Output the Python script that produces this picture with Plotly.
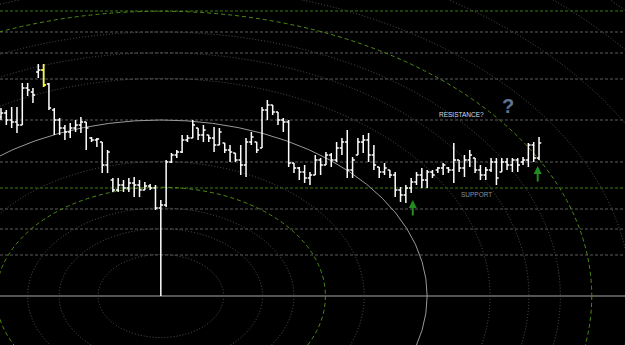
import plotly.graph_objects as go

# ---------------- data (price units) ----------------
bar_index = list(range(102))
open_ = [228, 232, 225, 223, 220, 257, 253, 273, 275, 261, 235, 225, 217, 213, 217, 220, 223, 207, 205, 203,
         180, 165, 155, 160, 157, 162, 160, 155, 159, 157, 137, 140, 183, 190, 193, 205, 207, 217, 210, 210,
         207, 200, 202, 195, 192, 185, 180, 203, 203, 197, 235, 240, 233, 225, 223, 182, 177, 173, 167, 170,
         185, 180, 190, 185, 197, 203, 175, 190, 203, 205, 190, 178, 173, 175, 170, 155, 150, 157, 163, 170,
         165, 173, 175, 177, 177, 175, 185, 177, 185, 187, 175, 170, 175, 183, 173, 183, 180, 185, 183, 185,
         200, 187]
high = [237, 235, 238, 238, 262, 262, 257, 281, 281, 262, 237, 227, 220, 222, 225, 228, 223, 208, 207, 203,
        195, 167, 167, 165, 167, 168, 165, 163, 161, 160, 145, 185, 192, 195, 210, 210, 225, 217, 220, 210,
        218, 217, 202, 200, 192, 200, 207, 213, 203, 238, 245, 240, 233, 227, 225, 182, 178, 180, 173, 190,
        187, 193, 192, 203, 207, 215, 188, 207, 210, 212, 200, 178, 182, 175, 173, 158, 160, 167, 173, 177,
        175, 175, 178, 182, 178, 202, 185, 190, 195, 187, 180, 178, 187, 187, 187, 187, 187, 187, 188, 202,
        203, 208]
low = [225, 220, 217, 212, 220, 249, 242, 267, 258, 235, 210, 210, 205, 207, 213, 212, 195, 203, 198, 172,
       172, 153, 153, 153, 153, 148, 148, 155, 155, 135, 49, 138, 182, 187, 192, 203, 207, 205, 203, 203,
       193, 200, 192, 183, 183, 170, 168, 200, 192, 197, 225, 230, 220, 213, 178, 172, 165, 162, 160, 170,
       170, 180, 178, 183, 190, 167, 167, 190, 192, 183, 175, 167, 170, 167, 148, 143, 142, 152, 160, 157,
       157, 167, 172, 170, 172, 162, 173, 168, 178, 172, 165, 165, 173, 160, 173, 175, 173, 173, 180, 178,
       183, 185]
close = [232, 225, 223, 220, 257, 255, 250, 275, 260, 237, 225, 217, 213, 217, 220, 223, 217, 205, 206, 180,
         193, 155, 160, 157, 162, 160, 155, 159, 157, 137, 140, 183, 190, 193, 205, 207, 220, 210, 215, 207,
         200, 213, 195, 193, 185, 180, 203, 208, 195, 235, 240, 233, 225, 223, 182, 177, 173, 167, 170, 185,
         180, 190, 185, 197, 203, 175, 185, 203, 205, 190, 180, 173, 177, 170, 155, 150, 157, 163, 170, 165,
         173, 170, 177, 180, 175, 185, 177, 185, 190, 175, 170, 175, 183, 167, 183, 180, 185, 180, 185, 200,
         187, 202]
highlight_bar = 8

fib_levels = [0.236, 0.382, 0.5, 0.618, 0.764, 1.0, 1.236, 1.382, 1.5, 1.618,
              1.764, 2.0, 2.236, 2.382, 2.5, 2.618]
fib_anchor_bar = 30          # circles centred on the low of this bar
fib_radius_bars = 50.0
fib_radius_price = 176.0

level_prices = [334, 313, 292, 266, 225, 183, 157, 136, 116, 90, 49]
green_levels = [334, 157]
base_level = 49

labels = ["RESISTANCE?", "?", "SUPPORT"]
label_bars = [86.4, 95.2, 89.2]
label_prices = [231, 239, 151]

signal_bars = [77.3, 100.75]
signal_prices = [145, 179]

# ---------------- figure ----------------
fig = go.Figure()

fig.add_trace(go.Ohlc(
    x=bar_index, open=open_, high=high, low=low, close=close,
    increasing=dict(line=dict(color="#ffffff", width=1.5)),
    decreasing=dict(line=dict(color="#ffffff", width=1.5)),
    tickwidth=0.42, hoverinfo="skip", showlegend=False))

fig.add_trace(go.Ohlc(
    x=[bar_index[highlight_bar]], open=[open_[highlight_bar]], high=[high[highlight_bar]],
    low=[low[highlight_bar]], close=[close[highlight_bar]],
    increasing=dict(line=dict(color="#ffff00", width=1.5)),
    decreasing=dict(line=dict(color="#ffff00", width=1.5)),
    tickwidth=0.42, hoverinfo="skip", showlegend=False))

shapes = []
cx = bar_index[fib_anchor_bar]
cy = low[fib_anchor_bar]
for lv in fib_levels:
    if abs(lv - 1.0) < 1e-9:
        line = dict(color="#999999", width=1)
    elif abs(lv - 0.618) < 1e-9 or abs(lv - 1.618) < 1e-9 or abs(lv - 2.618) < 1e-9:
        line = dict(color="#4f8a16", width=1, dash="4px,3px")
    else:
        line = dict(color="#555555", width=1, dash="1px,2px")
    shapes.append(dict(type="circle", xref="x", yref="y",
                       x0=cx - lv * fib_radius_bars, x1=cx + lv * fib_radius_bars,
                       y0=cy - lv * fib_radius_price, y1=cy + lv * fib_radius_price,
                       line=line, layer="below"))

for p in level_prices:
    if p == base_level:
        line = dict(color="#a8a8a8", width=1)
    elif p in green_levels:
        line = dict(color="#3f7a12", width=1, dash="3px,2px")
    else:
        line = dict(color="#5c5c5c", width=1, dash="3px,2px")
    shapes.append(dict(type="line", xref="paper", yref="y", x0=0, x1=1, y0=p, y1=p,
                       line=line, layer="below"))

annotations = []
label_styles = [
    dict(size=6.5, color="#d6dcea", family="Liberation Sans"),
    dict(size=20, color="#5f7390", family="Liberation Sans"),
    dict(size=6.5, color="#8a909c", family="Liberation Sans"),
]
for t, xb, yp, st in zip(labels, label_bars, label_prices, label_styles):
    txt = "<b>" + t + "</b>" if t == "?" else t
    annotations.append(dict(x=xb, y=yp, xref="x", yref="y", text=txt, showarrow=False,
                            font=st, xanchor="center", yanchor="middle"))

for xb, yp in zip(signal_bars, signal_prices):
    annotations.append(dict(x=xb, y=yp, xref="x", yref="y", text="", showarrow=True,
                            ax=0, ay=17, arrowhead=2, arrowsize=0.8, arrowwidth=2,
                            arrowcolor="#228b22", standoff=0, startstandoff=0))

spacing = 5.327
x_lo = -1 / spacing
x_hi = 624 / spacing

fig.update_layout(
    width=625, height=345,
    margin=dict(l=0, r=0, t=0, b=0),
    paper_bgcolor="#000000", plot_bgcolor="#000000",
    shapes=shapes, annotations=annotations,
    showlegend=False,
    xaxis=dict(range=[x_lo, x_hi], visible=False, showgrid=False, zeroline=False,
               rangeslider=dict(visible=False), fixedrange=True),
    yaxis=dict(range=[0, 345], visible=False, showgrid=False, zeroline=False, fixedrange=True),
)

fig.write_html("out.html")
